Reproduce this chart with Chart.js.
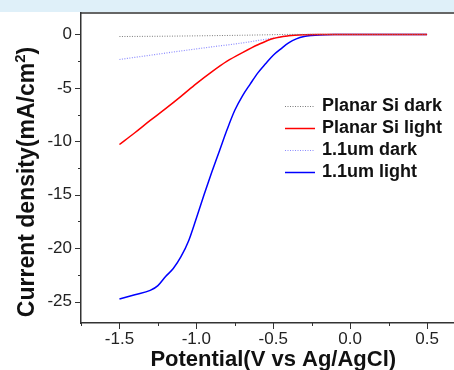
<!DOCTYPE html>
<html>
<head>
<meta charset="utf-8">
<script src="https://cdn.jsdelivr.net/npm/chart.js@4/dist/chart.umd.min.js"></script>
<style>
  html, body { margin: 0; padding: 0; background: #fff; overflow: hidden; width: 454px; height: 370px; }
  #band { position: absolute; left: 0; top: 0; width: 454px; height: 12px; background: #dff0f9; }
  #jv-chart { position: absolute; left: 0; top: 0; }
</style>
</head>
<body>
<div id="band"></div>
<canvas id="jv-chart" width="480" height="370"></canvas>
<script>
// J-V curves, potential in V vs Ag/AgCl, current density in mA/cm2
const seriesLabels = ['Planar Si dark', 'Planar Si light', '1.1um dark', '1.1um light'];

const planarDarkV = [-1.5, -1.2, -0.9, -0.7, -0.5, -0.4, 0, 0.5];
const planarDarkJ = [-0.2, -0.17, -0.12, -0.08, -0.03, 0, 0, 0];

const planarLightV = [-1.5, -1.4, -1.3, -1.2, -1.1, -1.0, -0.9, -0.8, -0.7, -0.6, -0.5, -0.4, -0.3, -0.2, 0, 0.5];
const planarLightJ = [-10.3, -9.2, -8.05, -6.95, -5.8, -4.6, -3.5, -2.5, -1.7, -0.97, -0.38, -0.13, -0.03, 0, 0, 0];

const umDarkV = [-1.5, -1.3, -1.1, -0.9, -0.7, -0.6, -0.5, -0.45, -0.4, -0.3, -0.2, 0.5];
const umDarkJ = [-2.35, -1.95, -1.55, -1.17, -0.8, -0.57, -0.35, -0.22, -0.1, -0.02, 0, 0];

const umLightV = [-1.5, -1.4, -1.3, -1.25, -1.2, -1.15, -1.1, -1.05, -1.0, -0.95, -0.9, -0.85, -0.8, -0.75,
                  -0.7, -0.65, -0.6, -0.55, -0.5, -0.45, -0.4, -0.35, -0.3, -0.25, -0.2, -0.1, 0, 0.5];
const umLightJ = [-24.75, -24.35, -23.95, -23.5, -22.65, -21.9, -20.8, -19.3, -17.2, -15.0, -12.9, -10.9, -8.9, -7.1,
                  -5.75, -4.65, -3.6, -2.75, -1.95, -1.35, -0.8, -0.42, -0.2, -0.1, -0.05, -0.01, 0, 0];

const FONT = "'Liberation Sans', Arial, sans-serif";
const AXIS = '#333';

const toPoints = (xs, ys) => xs.map((v, i) => ({ x: v, y: ys[i] }));

// frame top line, tick marks (major + minor), legend and axis titles
const decorations = {
    id: 'decorations',
    afterDraw(chart) {
        const { ctx, chartArea: a, scales: { x, y } } = chart;
        ctx.save();

        ctx.strokeStyle = AXIS;
        ctx.lineWidth = 1.5;
        ctx.beginPath();
        ctx.moveTo(a.left - 0.75, a.top);
        ctx.lineTo(a.right, a.top);
        ctx.stroke();

        ctx.lineWidth = 1;
        ctx.beginPath();
        x.ticks.forEach(t => {
            const px = Math.round(x.getPixelForValue(t.value)) + 0.5;
            const len = t.label ? 6 : 3;
            ctx.moveTo(px, a.bottom);
            ctx.lineTo(px, a.bottom + len);
        });
        y.ticks.forEach(t => {
            const py = Math.round(y.getPixelForValue(t.value)) + 0.5;
            const len = t.label ? 6 : 3;
            ctx.moveTo(a.left, py);
            ctx.lineTo(a.left - len, py);
        });
        ctx.stroke();

        // legend
        ctx.font = 'bold 18px ' + FONT;
        ctx.textBaseline = 'middle';
        ctx.textAlign = 'left';
        chart.data.datasets.forEach((ds, i) => {
            const ry = 106 + i * 22;
            ctx.strokeStyle = ds.borderColor;
            ctx.lineWidth = ds.borderWidth;
            ctx.setLineDash(ds.borderDash || []);
            ctx.beginPath();
            ctx.moveTo(285, ry + 0.5);
            ctx.lineTo(315, ry + 0.5);
            ctx.stroke();
            ctx.setLineDash([]);
            ctx.fillStyle = '#111';
            ctx.fillText(ds.label, 322, ry);
        });

        // x title
        ctx.font = 'bold 22px ' + FONT;
        ctx.textAlign = 'center';
        ctx.textBaseline = 'alphabetic';
        ctx.fillText('Potential(V vs Ag/AgCl)', (a.left + a.right) / 2, 366);

        // y title with superscript
        ctx.translate(33.5, 0);
        ctx.rotate(-Math.PI / 2);
        ctx.textAlign = 'left';
        const main = 'Current density(mA/cm';
        ctx.font = 'bold 23px ' + FONT;
        const w1 = ctx.measureText(main).width;
        const w3 = ctx.measureText(')').width;
        ctx.font = 'bold 15px ' + FONT;
        const w2 = ctx.measureText('2').width;
        const start = -(182 + (w1 + w2 + w3) / 2);
        ctx.font = 'bold 23px ' + FONT;
        ctx.fillText(main, start, 0);
        ctx.fillText(')', start + w1 + w2, 0);
        ctx.font = 'bold 15px ' + FONT;
        ctx.fillText('2', start + w1, -9);

        ctx.restore();
    }
};

const ctx = document.getElementById('jv-chart').getContext('2d');
new Chart(ctx, {
    type: 'line',
    data: {
        datasets: [
            {
                label: seriesLabels[0],
                data: toPoints(planarDarkV, planarDarkJ),
                borderColor: '#7a7a7a',
                borderWidth: 1,
                borderDash: [1, 1.5],
            },
            {
                label: seriesLabels[1],
                data: toPoints(planarLightV, planarLightJ),
                borderColor: '#ff0000',
                borderWidth: 1.5,
            },
            {
                label: seriesLabels[2],
                data: toPoints(umDarkV, umDarkJ),
                borderColor: '#8c8cff',
                borderWidth: 1.2,
                borderDash: [1, 1.5],
            },
            {
                label: seriesLabels[3],
                data: toPoints(umLightV, umLightJ),
                borderColor: '#0000ff',
                borderWidth: 1.5,
            },
        ],
    },
    options: {
        responsive: false,
        animation: false,
        events: [],
        elements: {
            point: { radius: 0 },
            line: { cubicInterpolationMode: 'monotone', fill: false },
        },
        layout: { padding: { left: 0, top: 13, right: 14.5, bottom: 0 } },
        plugins: {
            legend: { display: false },
            tooltip: { enabled: false },
        },
        scales: {
            x: {
                type: 'linear',
                min: -1.75,
                max: 0.75,
                afterFit: s => { s.height = 47; s.paddingLeft = 0; s.paddingRight = 0; },
                grid: { display: false, drawTicks: false },
                border: { display: true, color: AXIS, width: 1.5 },
                ticks: {
                    stepSize: 0.25,
                    includeBounds: false,
                    autoSkip: false,
                    maxRotation: 0,
                    padding: 6,
                    color: '#222',
                    font: { family: FONT, size: 17 },
                    callback: v => (Math.abs(v * 2 - Math.round(v * 2)) < 1e-6 ? v.toFixed(1) : ''),
                },
            },
            y: {
                min: -27,
                max: 2,
                afterFit: s => { s.width = 81; s.paddingTop = 0; s.paddingBottom = 0; },
                grid: { display: false, drawTicks: false },
                border: { display: true, color: AXIS, width: 1.5 },
                ticks: {
                    stepSize: 2.5,
                    includeBounds: false,
                    autoSkip: false,
                    padding: 9,
                    color: '#222',
                    font: { family: FONT, size: 17 },
                    callback: v => (v % 5 === 0 ? String(v) : ''),
                },
            },
        },
    },
    plugins: [decorations],
});
</script>
</body>
</html>
